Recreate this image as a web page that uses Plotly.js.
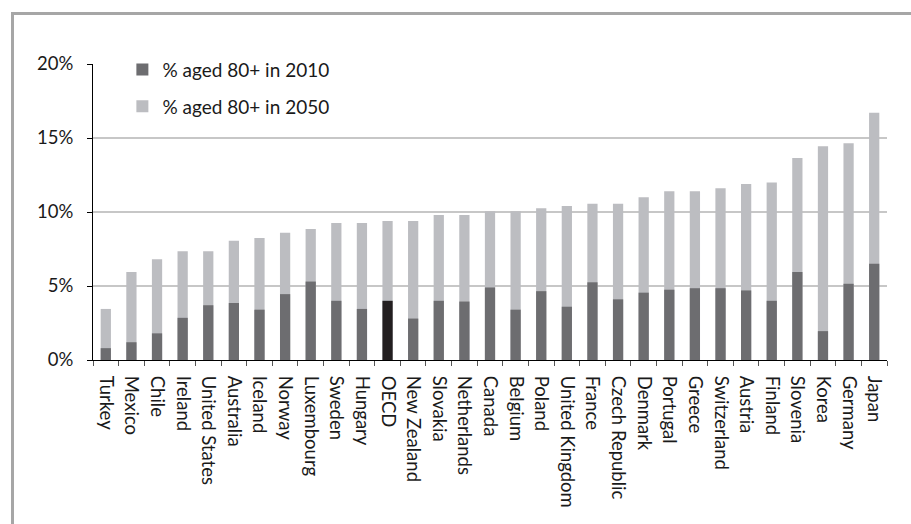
<!DOCTYPE html>
<html>
<head>
<meta charset="utf-8">
<script src="https://cdn.plot.ly/plotly-3.0.1.min.js"></script>
<style>
  html, body { margin:0; padding:0; background:#ffffff; overflow:hidden; }
  #wrap { position:relative; width:911px; height:524px; }
  #frame { position:absolute; left:11px; top:12px; width:1000px; height:1000px;
           border-left:3px solid #a6a6a6; border-top:3px solid #a6a6a6; }
  #chart { position:absolute; left:0; top:0; width:911px; height:524px; }
</style>
</head>
<body>
<div id="wrap">
  <div id="frame"></div>
  <div id="chart"></div>
</div>
<script>
const categories = ["Turkey","Mexico","Chile","Ireland","United States","Australia","Iceland","Norway",
  "Luxembourg","Sweden","Hungary","OECD","New Zealand","Slovakia","Netherlands","Canada","Belgium",
  "Poland","United Kingdom","France","Czech Republic","Denmark","Portugal","Greece","Switzerland",
  "Austria","Finland","Slovenia","Korea","Germany","Japan"];
const aged2010 = [0.8,1.2,1.8,2.85,3.7,3.85,3.4,4.45,5.3,4.0,3.45,4.0,2.8,4.0,3.95,4.9,3.4,
  4.65,3.6,5.25,4.1,4.55,4.75,4.85,4.85,4.7,4.0,5.95,1.95,5.15,6.5];
const aged2050 = [3.45,5.95,6.8,7.35,7.35,8.05,8.25,8.6,8.85,9.25,9.25,9.4,9.4,9.8,9.8,10.05,10.05,
  10.25,10.4,10.55,10.55,11.0,11.4,11.4,11.6,11.9,12.0,13.65,14.45,14.65,16.7];
const yTicks = [0,5,10,15,20];
const gridVals = [5,10,15];
const seriesNames = ["% aged 80+ in 2010","% aged 80+ in 2050"];

const DARK = "#6d6d70", LIGHT = "#bcbdc1", OECDC = "#231f20";
const FONT = "Lato, 'Open Sans', sans-serif";

const traces = [
  { type:"bar", name:seriesNames[1], x:categories, y:aged2050,
    marker:{color:LIGHT, line:{width:0}}, legendgroup:"b", legendrank:2, hoverinfo:"x+y" },
  { type:"bar", name:seriesNames[0], x:categories, y:aged2010,
    marker:{color:categories.map(c => c === "OECD" ? OECDC : DARK), line:{width:0}},
    legendgroup:"a", legendrank:1, hoverinfo:"x+y" }
];

const layout = {
  width:911, height:524,
  margin:{l:93, r:24, t:64, b:164, pad:0},
  paper_bgcolor:"rgba(0,0,0,0)", plot_bgcolor:"rgba(0,0,0,0)",
  font:{family:FONT, size:17, color:"#1a1a1a"},
  barmode:"overlay", bargap:0.6,
  showlegend:true,
  legend:{x:0.037, xanchor:"left", y:1.045, yanchor:"top", bgcolor:"rgba(0,0,0,0)",
          font:{family:FONT, size:19, color:"#1a1a1a"}, traceorder:"grouped", tracegroupgap:9,
          itemwidth:30},
  xaxis:{type:"category", tickangle:90, showline:true, linecolor:"#000", linewidth:1,
         ticks:"outside", tickson:"boundaries", ticklen:5, tickcolor:"#555", tickwidth:1,
         showgrid:false, zeroline:false, ticklabelstandoff:11,
         tickfont:{family:FONT, size:18.5, color:"#1a1a1a"}},
  yaxis:{range:[0,20], tickmode:"array", tickvals:yTicks, ticktext:yTicks.map(v => v + "%"),
         showline:true, linecolor:"#000", linewidth:1, ticks:"outside", ticklen:5, tickcolor:"#000",
         showgrid:false, zeroline:false, ticklabelstandoff:10,
         tickfont:{family:FONT, size:18.5, color:"#1a1a1a"}},
  shapes: gridVals.map(v => ({type:"line", xref:"paper", x0:0, x1:1, yref:"y", y0:v, y1:v,
         line:{color:"#8f8f8f", width:1.2}, layer:"below"}))
};

Plotly.newPlot("chart", traces, layout, {displayModeBar:false, staticPlot:true});
</script>
</body>
</html>
